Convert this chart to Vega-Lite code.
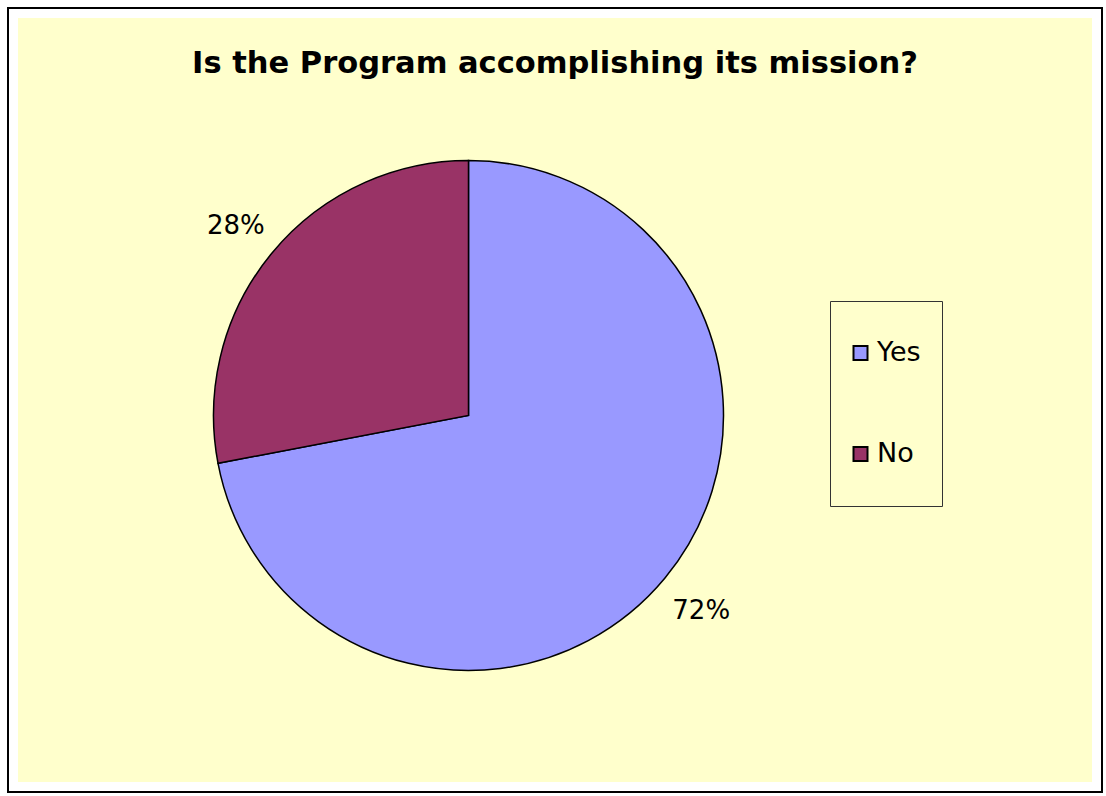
{
  "$schema": "https://vega.github.io/schema/vega-lite/v6.json",
  "width": 1092,
  "height": 782,
  "autosize": {"type": "none"},
  "padding": {"left": 9, "top": 9, "right": 5, "bottom": 5},
  "background": "white",
  "view": {"stroke": "black", "strokeWidth": 4, "fill": "white"},
  "title": {
    "text": "Is the Program accomplishing its mission?",
    "font": "DejaVu Sans",
    "fontSize": 30.5,
    "fontWeight": "bold",
    "color": "black",
    "anchor": "middle",
    "frame": "group",
    "offset": -94,
    "baseline": "alphabetic"
  },
  "data": {"values": [
    {"answer": "Yes", "share": 72, "label": "72%", "rank": 1},
    {"answer": "No", "share": 28, "label": "28%", "rank": 2}
  ]},
  "layer": [
    {
      "data": {"values": [{"panel": "background"}]},
      "mark": {"type": "rect", "fill": "#FFFFCC", "stroke": "white", "strokeWidth": 18, "clip": true},
      "encoding": {}
    },
    {
      "mark": {"type": "arc", "outerRadius": 255, "stroke": "black", "strokeWidth": 1.5, "x": 459.5, "y": 406.5},
      "encoding": {
        "theta": {"field": "share", "type": "quantitative", "stack": true},
        "order": {"field": "rank", "type": "quantitative"},
        "color": {
          "field": "answer",
          "type": "nominal",
          "scale": {"domain": ["Yes", "No"], "range": ["#9999FF", "#993366"]},
          "legend": {
            "title": null,
            "orient": "none",
            "legendX": 821,
            "legendY": 292,
            "padding": 21,
            "clipHeight": 62,
            "rowPadding": 39,
            "strokeColor": "#333333",
            "symbolType": "square",
            "symbolSize": 196,
            "symbolStrokeColor": "black",
            "symbolStrokeWidth": 2,
            "symbolOffset": -4,
            "labelOffset": 3,
            "labelFont": "DejaVu Sans",
            "labelFontSize": 27,
            "labelColor": "black"
          }
        }
      }
    },
    {
      "mark": {"type": "text", "radius": 302, "dy": 3, "x": 459.5, "y": 406.5, "font": "DejaVu Sans", "fontSize": 26, "color": "black", "align": "center", "baseline": "middle"},
      "encoding": {
        "theta": {"field": "share", "type": "quantitative", "stack": true},
        "order": {"field": "rank", "type": "quantitative"},
        "text": {"field": "label", "type": "nominal"}
      }
    }
  ]
}
